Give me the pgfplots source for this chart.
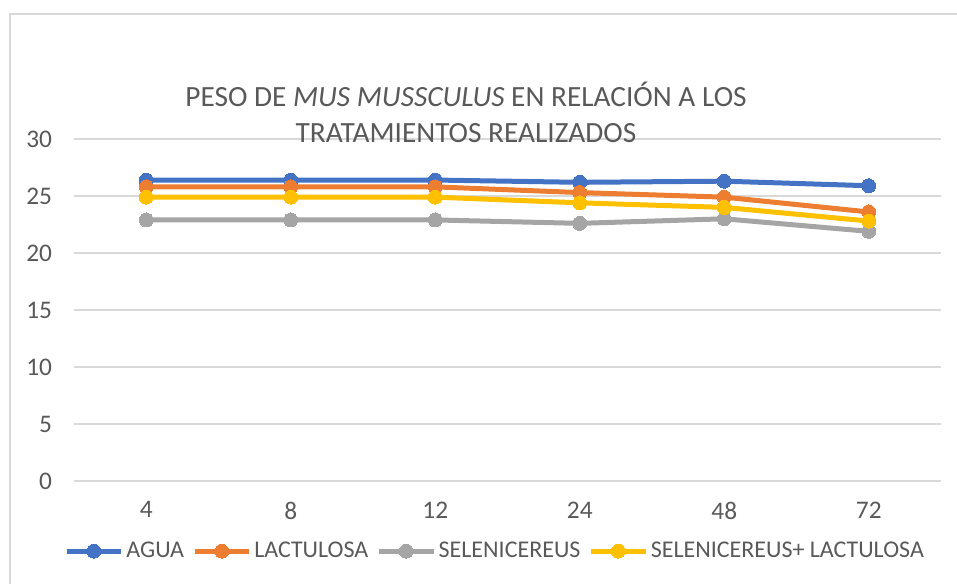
\documentclass[border=0pt]{standalone}
\usepackage{pgfplots}
\pgfplotsset{compat=1.18}
\usepackage{fontspec}
\setmainfont{Carlito}
\definecolor{cblue}{HTML}{4472C4}
\definecolor{corange}{HTML}{ED7D31}
\definecolor{cgray}{HTML}{A5A5A5}
\definecolor{cyellow}{HTML}{FFC000}
\definecolor{ctext}{HTML}{595959}
\definecolor{cgrid}{HTML}{D9D9D9}
\begin{document}
\begin{tikzpicture}
\useasboundingbox (0,0) rectangle (717.75pt,437.25pt);
\draw[cgrid, line width=1.5pt] (7.5pt,-2pt) -- (7.5pt,426.75pt) -- (720pt,426.75pt);
\begin{axis}[
  at={(55.5pt,76.5pt)}, anchor=south west,
  scale only axis, width=650.25pt, height=256.5pt,
  xmin=-0.5, xmax=5.5, ymin=0, ymax=30,
  xtick={0,1,2,3,4,5}, xticklabels={4,8,12,24,48,72},
  ytick={0,5,10,15,20,25,30},
  ymajorgrids, grid style={cgrid, line width=1pt},
  axis line style={draw=none},
  axis x line*=bottom,
  x axis line style={cgrid, line width=1pt},
  axis y line*=left,
  y axis line style={draw=none},
  major tick length=0pt,
  tick label style={font=\fontsize{19}{22}\selectfont, text=ctext},
  /pgf/number format/assume math mode=true,
  yticklabel style={xshift=-13pt},
  xticklabel style={yshift=-12pt},
  every axis plot/.append style={line width=3.75pt, mark=*, mark size=5.25pt, mark options={line width=0pt}},
  legend columns=4,
  legend style={at={(0.486,-0.205)}, anchor=center, draw=none, fill=none,
    font=\fontsize{18}{22}\selectfont, text=ctext,
    /tikz/every even column/.append style={column sep=4pt}},
  legend image code/.code={
    \draw[#1, mark repeat=2, mark phase=2] plot coordinates {(0pt,0pt) (20.5pt,0pt) (41pt,0pt)};
  },
]
\addplot[color=cblue] coordinates {(0,26.4) (1,26.4) (2,26.4) (3,26.2) (4,26.3) (5,25.9)};
\addlegendentry{AGUA}
\addplot[color=corange] coordinates {(0,25.8) (1,25.8) (2,25.8) (3,25.3) (4,24.9) (5,23.6)};
\addlegendentry{LACTULOSA}
\addplot[color=cgray] coordinates {(0,22.9) (1,22.9) (2,22.9) (3,22.6) (4,23.0) (5,21.9)};
\addlegendentry{SELENICEREUS}
\addplot[color=cyellow] coordinates {(0,24.9) (1,24.9) (2,24.9) (3,24.4) (4,24.0) (5,22.8)};
\addlegendentry{SELENICEREUS+ LACTULOSA}
\end{axis}
\node[text=ctext, font=\fontsize{22}{26.5}\selectfont, align=center] at (349.5pt,353pt)
  {PESO DE \textit{MUS MUSSCULUS} EN RELACIÓN A LOS\\TRATAMIENTOS REALIZADOS};
\end{tikzpicture}
\end{document}
